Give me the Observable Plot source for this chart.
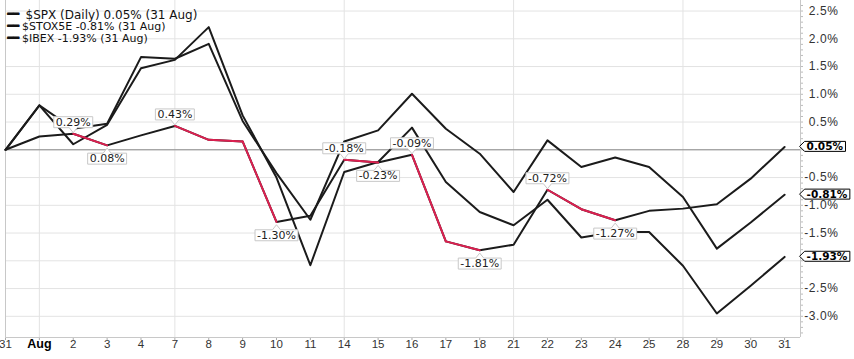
<!DOCTYPE html>
<html><head><meta charset="utf-8">
<script src="https://cdn.jsdelivr.net/npm/d3@7"></script>
<script src="https://cdn.jsdelivr.net/npm/@observablehq/plot@0.6"></script>
<style>
body{margin:0;background:#fff;}
#chart svg{display:block;}
[aria-label="y-axis tick label"] text{letter-spacing:0.6px;}
</style></head><body><div id="chart"></div>
<script>
// ---- data ----
const days = ["31","Aug","2","3","4","7","8","9","10","11","14","15","16","17","18","21","22","23","24","25","28","29","30","31"];
const spx  = [0, 0.24, 0.29, 0.08, 0.26, 0.43, 0.18, 0.15, -1.30, -1.19, -0.18, -0.23, -0.09, -1.65, -1.81, -1.71, -0.72, -1.07, -1.27, -1.10, -1.06, -0.98, -0.52, 0.05];
const stox = [0, 0.80, 0.38, 0.47, 1.67, 1.64, 1.91, 0.52, -0.42, -1.26, 0.15, 0.35, 1.01, 0.38, -0.07, -0.76, 0.17, -0.31, -0.14, -0.31, -0.85, -1.78, -1.31, -0.81];
const ibex = [0, 0.80, 0.10, 0.45, 1.47, 1.62, 2.21, 0.62, -0.50, -2.08, -0.40, -0.22, 0.40, -0.58, -1.12, -1.36, -0.90, -1.58, -1.48, -1.48, -2.09, -2.95, -2.45, -1.93];
const seriesNames = ["$SPX (Daily)", "$STOX5E", "$IBEX"];
const asOf = "31 Aug";
const yTicks = [-3, -2.5, -2, -1.5, -1, -0.5, 0, 0.5, 1, 1.5, 2, 2.5];
const gridDays = ["Aug", "7", "14", "21", "28"];

// ---- derived tables ----
const idx = days.map((d, i) => i);
const rows = vals => vals.map((v, i) => ({i, v}));
const spxRows = rows(spx);
const decl = i => i >= 0 && i < spx.length - 1 && spx[i + 1] < spx[i];
const redSegs = idx.filter(decl).map(i => ({i1: i, v1: spx[i], i2: i + 1, v2: spx[i + 1]}));
const above = spxRows.filter(d => decl(d.i) && !decl(d.i - 1));
const below = spxRows.filter(d => decl(d.i - 1) && !decl(d.i));
const minorTicks = d3.range(-33, 27).map(k => k / 10);
const gridIdx = gridDays.map(d => days.indexOf(d));
const ends = [spx, stox, ibex].map(s => s[s.length - 1]);
const legendText = seriesNames.map((n, k) => `${n} ${ends[k].toFixed(2)}% (${asOf})`);
const endRows = ends.map(v => ({i: days.length - 1, v}));
const pct = d => d.v.toFixed(2) + "%";
// tick labels hidden behind the end-value boxes in the reference
const coveredTicks = [0, -2];
const yLabel = d => coveredTicks.includes(d) ? "" : d.toFixed(1) + "%";

const xMax = 23.47, yMin = -3.382, yMax = 2.69;
const ink = "#1b1b1b", red = "#dc2050", grid = "#e3e3e3";
const rowY = k => 9.5 + 12 * k;

const svg = Plot.plot({
  width: 854, height: 359,
  marginLeft: 5, marginRight: 54, marginTop: 0, marginBottom: 22,
  x: {type: "linear", domain: [0, xMax], axis: null},
  y: {domain: [yMin, yMax], axis: null},
  style: {fontFamily: "DejaVu Sans", fontSize: "11px", background: "white"},
  marks: [
    Plot.gridY(yTicks, {stroke: grid, strokeOpacity: 1}),
    Plot.gridX(gridIdx, {stroke: grid, strokeOpacity: 1}),
    Plot.axisY(minorTicks, {anchor: "right", tickSize: 2, tickFormat: () => "", stroke: "#bbb"}),
    Plot.axisY(yTicks, {anchor: "right", tickSize: 4, tickPadding: 3, tickFormat: yLabel,
      textAnchor: "end", dx: 31, stroke: "#aaa", fill: "#333", fontFamily: "Liberation Sans", fontSize: 12}),
    Plot.axisX(idx, {tickSize: 3, tickFormat: () => "", stroke: "#aaa"}),
    Plot.ruleX([0, xMax], {stroke: "#c8c8c8"}),
    Plot.ruleY([yMin], {stroke: "#c8c8c8"}),
    Plot.ruleY([0], {stroke: "#8a8a8a"}),
    Plot.line(rows(stox), {x: "i", y: "v", stroke: ink, strokeWidth: 2}),
    Plot.line(rows(ibex), {x: "i", y: "v", stroke: ink, strokeWidth: 2}),
    Plot.line(spxRows, {x: "i", y: "v", stroke: ink, strokeWidth: 2}),
    Plot.link(redSegs, {x1: "i1", y1: "v1", x2: "i2", y2: "v2", stroke: red, strokeWidth: 2, strokeLinecap: "round"}),
    // text marks (order matters for the post-processing below)
    Plot.text(idx.filter(i => days[i] !== "Aug"), {x: d => d, text: d => days[d], frameAnchor: "bottom", dy: 10,
      fill: "#333", fontFamily: "Liberation Sans", fontSize: 11.5}),
    Plot.text(idx.filter(i => days[i] === "Aug"), {x: d => d, text: d => days[d], frameAnchor: "bottom", dy: 10,
      fill: "#000", fontFamily: "Liberation Sans", fontSize: 12.5, fontWeight: "bold"}),
    ...legendText.map((t, k) => Plot.text(["\u2501\u2501"], {text: d => d, frameAnchor: "top-left", textAnchor: "start",
      dx: 2, dy: rowY(k), fontSize: 9.5, fill: "#111", stroke: "#111", strokeWidth: 0.9})),
    ...legendText.map((t, k) => Plot.text([t], {text: d => d, frameAnchor: "top-left", textAnchor: "start",
      dx: k === 0 ? 20 : 16.5, dy: rowY(k), fontSize: k === 0 ? 12 : 11, fill: "#111"})),
    Plot.text(above, {x: "i", y: "v", text: pct, lineAnchor: "bottom", dy: -8, fill: "#222", fontSize: 11}),
    Plot.text(below, {x: "i", y: "v", text: pct, lineAnchor: "top", dy: 9, fill: "#222", fontSize: 11}),
    Plot.text(endRows, {x: "i", y: "v", text: pct, textAnchor: "start", dx: 22, fontWeight: "bold", fontSize: 10.5, fill: "#000"})
  ]
});
document.getElementById("chart").append(svg);

// ---- label boxes drawn around the rendered text ----
const NS = "http://www.w3.org/2000/svg";
const groups = svg.querySelectorAll('g[aria-label="text"]');
function addBoxes(g, kind) {
  if (!g) return;
  for (const t of Array.from(g.querySelectorAll("text"))) {
    const b = t.getBBox();
    const x0 = b.x - 2, x1 = b.x + b.width + 2, y0 = b.y + 1, y1 = b.y + b.height - 1;
    const cx = b.x + b.width / 2, cy = (y0 + y1) / 2;
    let d, stroke = "#c8c8c8";
    if (kind === "above") d = `M${x0},${y0}H${x1}V${y1}H${cx + 4}L${cx},${y1 + 5}L${cx - 4},${y1}H${x0}Z`;
    else if (kind === "below") d = `M${x0},${y0}H${cx - 4}L${cx},${y0 - 5}L${cx + 4},${y0}H${x1}V${y1}H${x0}Z`;
    else { d = `M${b.x - 7},${cy}L${b.x - 2},${y0}H${x1}V${y1}H${b.x - 2}Z`; stroke = "#000"; }
    const p = document.createElementNS(NS, "path");
    p.setAttribute("d", d);
    p.setAttribute("fill", "white");
    p.setAttribute("stroke", stroke);
    p.setAttribute("stroke-width", "1");
    const tr = t.getAttribute("transform");
    if (tr) p.setAttribute("transform", tr);
    g.insertBefore(p, t);
  }
}
const n = groups.length;
addBoxes(groups[n - 3], "above");
addBoxes(groups[n - 2], "below");
addBoxes(groups[n - 1], "end");
</script></body></html>
